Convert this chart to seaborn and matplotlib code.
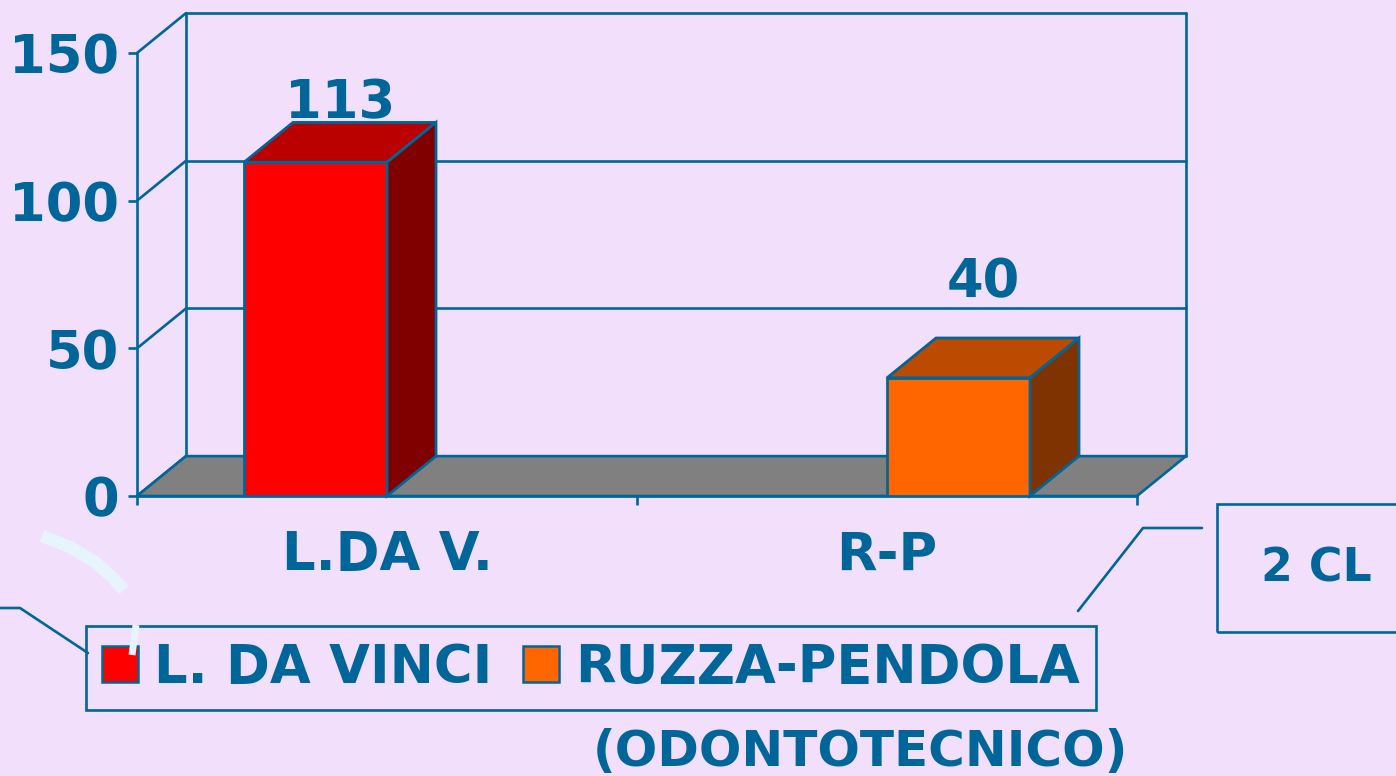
import matplotlib
matplotlib.use("Agg")
from matplotlib import pyplot as plt
from matplotlib.patches import Polygon, Rectangle, Patch
from matplotlib.lines import Line2D
import pandas as pd
import seaborn as sns

# dati del grafico
categories = ["L.DA V.", "R-P"]
schools = ["L. DA VINCI", "RUZZA-PENDOLA"]
students = [113, 40]
y_ticks = [0, 50, 100, 150]
box_label = "2 CL"
note = "(ODONTOTECNICO)"

# stile
BG = "#F2DFFB"
BLUE = "#006699"
front_colors = ["#FF0000", "#FF6600"]
top_colors = ["#BB0000", "#BC4A00"]
side_colors = ["#800000", "#7F3300"]
label_pad = [3, 29]   # punti sopra il bordo superiore della barra
LW = 1.9

W, H = 1396, 776


def fx(x):
    return x / W


def fy(y):
    return 1 - y / H


sns.set_style("white")
plt.rcParams["font.family"] = ["DejaVu Sans"]
plt.rcParams["font.weight"] = "bold"

fig = plt.figure(figsize=(W / 100, H / 100), dpi=100, facecolor=BG)
ax = fig.add_axes([fx(137), fy(496), 1000 / W, 443 / H])
ax.set_facecolor("none")

df = pd.DataFrame({"cat": categories, "school": schools, "n": students})
sns.barplot(data=df, x="cat", y="n", hue="school", hue_order=schools,
            order=categories, palette=front_colors, width=0.572, saturation=1,
            dodge=True, edgecolor=BLUE, linewidth=2, legend=False, ax=ax, zorder=3)

ax.set_xlim(-0.5, 1.5)
ax.set_ylim(0, max(y_ticks))
x0, x1 = ax.get_xlim()
ymax = max(y_ticks)
dx, dy = 0.098, 13.5   # profondita' 3D in unita' dati

# facce superiori e laterali delle barre + etichette
for i, cont in enumerate(ax.containers):
    for bar in cont:
        h = bar.get_height()
        if not h or h != h:
            continue
        bx, bw = bar.get_x(), bar.get_width()
        ax.add_patch(Polygon([(bx, h), (bx + bw, h), (bx + bw + dx, h + dy), (bx + dx, h + dy)],
                             closed=True, facecolor=top_colors[i], edgecolor=BLUE,
                             lw=2, zorder=3, clip_on=False))
        ax.add_patch(Polygon([(bx + bw, 0), (bx + bw + dx, dy), (bx + bw + dx, h + dy), (bx + bw, h)],
                             closed=True, facecolor=side_colors[i], edgecolor=BLUE,
                             lw=2, zorder=3, clip_on=False))
        ax.annotate(f"{h:.0f}", xy=(bx + bw / 2 + dx / 2, h + dy), xytext=(0, label_pad[i]),
                    textcoords="offset points", ha="center", va="baseline",
                    fontsize=38, fontweight="bold", color=BLUE, zorder=5,
                    annotation_clip=False)

# pavimento grigio
ax.add_patch(Polygon([(x0, 0), (x1, 0), (x1 + dx, dy), (x0 + dx, dy)], closed=True,
                     facecolor="#808080", edgecolor=BLUE, lw=LW, zorder=1.5, clip_on=False))
# parete di fondo e parete sinistra
for v in y_ticks:
    ax.plot([x0 + dx, x1 + dx], [v + dy, v + dy], color=BLUE, lw=LW, zorder=1, clip_on=False)
    ax.plot([x0, x0 + dx], [v, v + dy], color=BLUE, lw=LW, zorder=1, clip_on=False)
ax.plot([x0 + dx, x0 + dx], [dy, ymax + dy], color=BLUE, lw=LW, zorder=1, clip_on=False)
ax.plot([x1 + dx, x1 + dx], [dy, ymax + dy], color=BLUE, lw=LW, zorder=1, clip_on=False)

# assi
for s in ["top", "right"]:
    ax.spines[s].set_visible(False)
for s in ["left", "bottom"]:
    ax.spines[s].set_color(BLUE)
    ax.spines[s].set_linewidth(LW)
    ax.spines[s].set_zorder(2)
ax.set_yticks(y_ticks)
ax.tick_params(axis="y", left=True, length=6.5, width=LW, color=BLUE,
               labelcolor=BLUE, labelsize=38, pad=6.5, direction="out")
ax.set_xticks(range(len(categories)), categories)
ax.set_xticks([x0, 0.5, x1], minor=True)
ax.tick_params(axis="x", which="major", bottom=False, length=0, labelcolor=BLUE,
               labelsize=38, pad=24)
ax.tick_params(axis="x", which="minor", bottom=True, length=6.5, width=LW,
               color=BLUE, direction="out")
for t in ax.get_xticklabels() + ax.get_yticklabels():
    t.set_fontweight("bold")
ax.set_xlabel("")
ax.set_ylabel("")

# legenda
handles = [Patch(facecolor=c, edgecolor=BLUE, lw=1.8) for c in front_colors]
leg = fig.legend(handles, schools, loc="upper left", bbox_to_anchor=(fx(86), fy(626)),
                 ncol=2, frameon=True, fancybox=False, edgecolor=BLUE, facecolor="none",
                 framealpha=1, prop={"size": 38, "weight": "bold"}, labelcolor=BLUE,
                 handlelength=0.68, handleheight=0.68, handletextpad=0.3,
                 columnspacing=0.6, borderpad=0.3, borderaxespad=0)
leg.get_frame().set_linewidth(LW)

# riquadro "2 CL"
fig.add_artist(Rectangle((fx(1217), fy(632)), (1420 - 1217) / W, (632 - 504) / H,
                         transform=fig.transFigure, fill=False, edgecolor=BLUE, lw=LW))
fig.text(fx(1316), fy(569), box_label, ha="center", va="center", fontsize=33,
         fontweight="bold", color=BLUE)

# linee di richiamo
fig.add_artist(Line2D([fx(0), fx(20), fx(88)], [fy(608), fy(608), fy(653)],
                      transform=fig.transFigure, color=BLUE, lw=LW))
fig.add_artist(Line2D([fx(1202), fx(1143), fx(1078)], [fy(528), fy(528), fy(611)],
                      transform=fig.transFigure, color=BLUE, lw=LW))

# tratto decorativo chiaro
fig.add_artist(Line2D([fx(42), fx(70), fx(95), fx(112), fx(124)],
                      [fy(536), fy(547), fy(562), fy(577), fy(590)],
                      transform=fig.transFigure, color="#E6F4FC", lw=9,
                      solid_capstyle="butt", zorder=6))
fig.add_artist(Line2D([fx(136), fx(134), fx(132)], [fy(625), fy(640), fy(655)],
                      transform=fig.transFigure, color="#E6F4FC", lw=5,
                      solid_capstyle="butt", zorder=6))

# nota in basso
fig.text(fx(860), fy(766), note, ha="center", va="baseline", fontsize=36,
         fontweight="bold", color=BLUE)

fig.savefig("out.png", dpi=100, facecolor=BG)
